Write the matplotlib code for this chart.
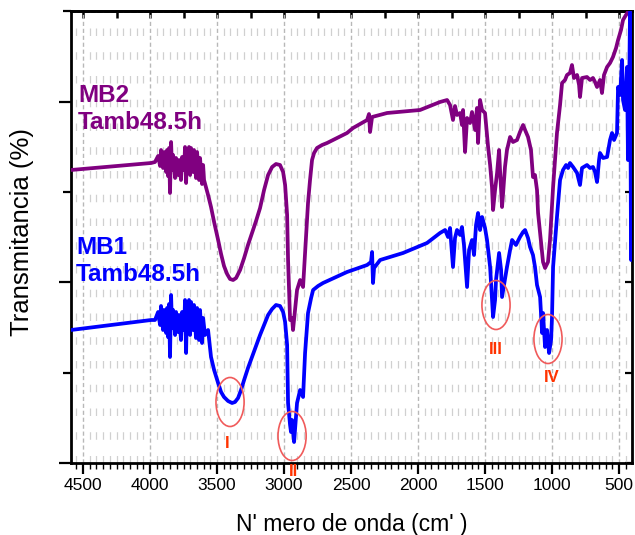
import matplotlib
matplotlib.use("Agg")
import matplotlib.pyplot as plt
from matplotlib.patches import Ellipse
from matplotlib.ticker import MultipleLocator, NullFormatter
import numpy as np

plt.rcParams['font.family'] = ['Liberation Sans', 'DejaVu Sans']

# ---------------- data ----------------
mb2_wn = [4590, 3992, 3963, 3940, 3925, 3918, 3903, 3895, 3880, 3873, 3866, 3858, 3851, 3843,
          3836, 3828, 3813, 3806, 3791, 3784, 3769, 3761, 3746, 3739, 3731, 3724, 3716, 3709,
          3701, 3694, 3679, 3672, 3657, 3649, 3634, 3627, 3612, 3604, 3597,
          3567, 3545, 3522, 3492, 3470, 3448, 3425, 3403, 3380, 3358, 3328, 3298, 3269, 3239,
          3209, 3179, 3149, 3119, 3089, 3060, 3030, 3007, 2992, 2977,
          2970, 2955, 2940, 2933, 2918, 2903, 2880, 2858, 2843, 2821, 2806, 2791, 2776, 2754,
          2716, 2679, 2530,
          2485, 2380, 2366, 2358, 2343, 2231, 1985, 1836, 1783,
          1761, 1739, 1724, 1709, 1686, 1672, 1664, 1649, 1634, 1612, 1597, 1574, 1560, 1552,
          1537, 1522, 1500, 1477, 1462, 1448, 1440, 1425, 1410, 1395, 1388, 1373, 1366, 1351,
          1336, 1313, 1291, 1261, 1239, 1216, 1201, 1179, 1157, 1142, 1127, 1112, 1104, 1089,
          1067, 1052, 1030, 1015, 992, 963, 940, 925, 903, 888, 866, 851, 836, 813, 798, 791,
          776, 739, 716, 694, 679, 664, 642, 627, 612, 589, 567, 545, 522, 507, 485, 470, 448,
          433, 403]
mb2_t = [293, 300, 301, 307, 297, 313, 295, 311, 291, 313, 287, 315, 270, 321,
         293, 308, 285, 305, 288, 303, 283, 306, 293, 316, 280, 313, 295, 316,
         288, 315, 291, 313, 285, 311, 283, 305, 279, 298, 283,
         268, 256, 241, 223, 209, 197, 189, 184, 183, 185, 193, 205, 218, 230,
         242, 255, 273, 288, 296, 299, 298, 291, 278, 248,
         203, 143, 145, 133, 153, 173, 183, 176, 210, 260, 283, 303, 310, 315,
         318, 320, 330,
         335, 343, 349, 331, 346, 350, 353, 361, 363,
         358, 343, 357, 348, 350, 338, 353, 311, 345, 340, 351, 333, 355, 320,
         363, 353, 350, 316, 298, 276, 253, 273, 290, 313, 293, 256, 268, 296,
         313, 326, 321, 323, 331, 338, 333, 326, 313, 286, 288, 273, 250, 230,
         201, 195, 201, 223, 276, 330, 358, 380, 383, 388, 390, 398, 385, 388, 378, 366,
         385, 386, 383, 385, 381, 376, 383, 370, 388, 396, 400, 406, 415, 423, 433, 443, 448,
         451, 453]

mb1_wn = [4590, 3992, 3963, 3940, 3925, 3918, 3903, 3895, 3880, 3873, 3866, 3858, 3851, 3843,
          3836, 3828, 3813, 3806, 3791, 3784, 3769, 3761, 3746, 3739, 3731, 3724, 3716, 3709,
          3701, 3694, 3679, 3672, 3657, 3649, 3634, 3627, 3612, 3604, 3590, 3567,
          3545, 3522, 3492, 3470, 3448, 3418, 3388, 3366, 3343, 3321, 3298, 3269, 3239, 3209,
          3179, 3149, 3119, 3089, 3060, 3030, 3007, 2992, 2977,
          2970, 2955, 2948, 2940, 2925, 2918, 2903, 2880, 2858, 2843, 2821, 2798, 2783, 2746,
          2709, 2530,
          2380, 2351, 2343, 2336, 2328, 2283, 2112, 1933, 1836,
          1798, 1776, 1761, 1739, 1724, 1709, 1686, 1672, 1657, 1634, 1619, 1597, 1582, 1567,
          1552, 1537, 1522, 1500, 1485, 1462, 1440, 1425, 1418, 1395, 1380, 1373, 1358, 1336,
          1313, 1298, 1269, 1239, 1216, 1201, 1179, 1164, 1142, 1127, 1112, 1089, 1074, 1067,
          1052, 1037, 1022, 1007, 1000, 992, 963, 940, 918, 895, 880, 866, 843, 813, 791, 776,
          739, 716, 694, 679, 664, 649, 642, 619, 589, 567, 552, 537, 515, 507, 492, 477, 470,
          455, 440, 433, 425, 418, 410, 403]
mb1_t = [133, 143, 143, 151, 138, 157, 133, 153, 130, 155, 126, 159, 106, 168,
         135, 153, 128, 151, 131, 148, 123, 151, 133, 163, 110, 158, 138, 163,
         128, 161, 133, 158, 125, 155, 123, 153, 120, 145, 128, 133,
         106, 93, 80, 71, 66, 62, 60, 61, 65, 73, 83, 95, 106, 117,
         128, 138, 148, 154, 158, 157, 151, 141, 118,
         60, 38, 31, 43, 21, 33, 60, 73, 66, 110, 150, 165, 173, 177,
         180, 191,
         198, 201, 211, 180, 195, 203, 210, 220, 230,
         233, 226, 235, 196, 225, 233, 228, 236, 218, 176, 213, 223, 208, 238,
         250, 233, 246, 235, 223, 196, 146, 163, 183, 210, 193, 166, 178, 196,
         213, 223, 218, 226, 231, 233, 225, 216, 208, 196, 178, 166, 130, 150,
         116, 133, 110, 123, 146, 196, 246, 283, 293, 298, 295, 300, 296, 290, 278, 295,
         298, 295, 296, 291, 281, 303, 310, 305, 306, 323, 330, 323, 330, 376, 368, 403, 363,
         353, 396, 303, 363, 451, 203, 263]

band_labels = ['I', 'II', 'III', 'IV']
band_wn = [3403, 2940, 1418, 1030]
band_t = [61, 27, 158, 124]
label_wn = [3425, 2933, 1418, 1000]
label_t = [19, -9, 114, 86]

xticks = [4500, 4000, 3500, 3000, 2500, 2000, 1500, 1000, 500]

# ---------------- figure ----------------
W, H = 635, 535
fig = plt.figure(figsize=(W / 100, H / 100), dpi=100)
ax = fig.add_axes([71 / W, 72 / H, 561 / W, 452 / H])

ax.plot(mb2_wn, mb2_t, color='#800080', lw=2.7, zorder=3)
ax.plot(mb1_wn, mb1_t, color='#0000ff', lw=2.7, zorder=4)

ax.set_xlim(4590, 403)
ax.set_ylim(0, 452)

# x axis ticks
ax.set_xticks(xticks)
ax.set_xticklabels([str(v) for v in xticks])
ax.xaxis.set_minor_locator(MultipleLocator(50))
ax.tick_params(axis='x', which='major', direction='out', length=8, width=1.6,
               labelsize=12.5, pad=3, top=False)
ax.tick_params(axis='x', which='minor', direction='out', length=4, width=1.0, top=False)

# y axis ticks (no labels)
ax.set_yticks([0, 181, 361])
ax.set_yticks([90, 271, 452], minor=True)
ax.yaxis.set_major_formatter(NullFormatter())
ax.tick_params(axis='y', which='major', direction='out', length=9, width=1.6, right=False)
ax.tick_params(axis='y', which='minor', direction='out', length=6, width=1.6, right=False)

# top and right inward ticks
secx = ax.secondary_xaxis('top')
secx.set_xticks(np.arange(500, 4600, 250))
secx.tick_params(direction='in', length=5, width=1.8, labeltop=False)
secx.spines['top'].set_linewidth(2)
secy = ax.secondary_yaxis('right')
secy.set_yticks([0, 90, 181, 271, 361])
secy.tick_params(direction='in', length=5, width=1.6, labelright=False)

for s in ax.spines.values():
    s.set_linewidth(2)

# grid
ax.grid(which='major', axis='x', color='#b8b8b8', linestyle=(0, (3, 2)), lw=1.0, zorder=0)
ax.grid(which='minor', axis='x', color='#d0d0d0', linestyle=(0, (6, 13)), lw=0.9, zorder=0)
ax.set_axisbelow(True)

# band circles and labels
for lab, x, y, lx, ly in zip(band_labels, band_wn, band_t, label_wn, label_t):
    ax.add_patch(Ellipse((x, y), 210, 49, fill=False, edgecolor='#f05a5a', lw=1.2, zorder=5))
    ax.text(lx, ly, lab, color='#ff3300', fontsize=12, fontweight='bold',
            ha='center', va='center', zorder=6, clip_on=False)

# sample labels
ax.text(4537, 354, 'MB2\nTamb48.5h', color='#800080', fontsize=17.5, fontweight='bold',
        ha='left', va='center', linespacing=1.2, zorder=6)
ax.text(4552, 202, 'MB1\nTamb48.5h', color='#0000ff', fontsize=17.5, fontweight='bold',
        ha='left', va='center', linespacing=1.2, zorder=6)

# axis titles
fig.text(22 / W, 1 - 232 / H, 'Transmitancia (%)', rotation=90, fontsize=18.5,
         ha='center', va='center')
fig.text(352 / W, 1 - 525 / H, "N' mero de onda (cm' )", fontsize=16.5,
         ha='center', va='center')

fig.savefig('out.png', dpi=100)
